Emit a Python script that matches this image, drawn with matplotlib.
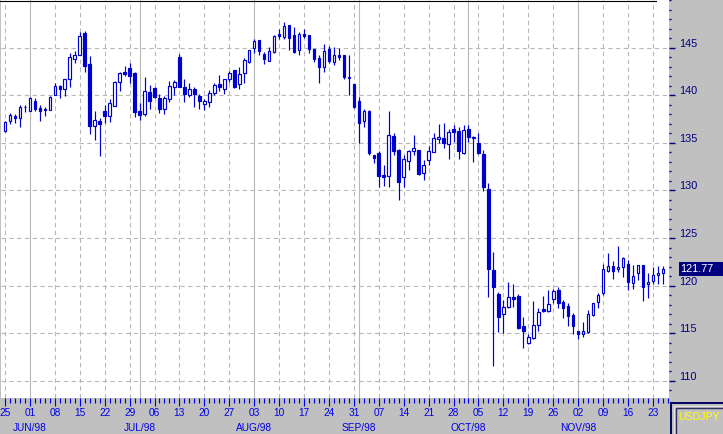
import matplotlib
matplotlib.use("Agg")
import matplotlib.pyplot as plt
import matplotlib.transforms as mtransforms
from matplotlib.patches import Rectangle
from matplotlib.lines import Line2D
import numpy as np
import pandas as pd

# daily USD/JPY, one bar per weekday starting Mon 25 May 1998
START = "1998-05-25"
SYMBOL = "USDJPY"

opens = [
    136.29, 137.27, 137.83, 137.58, 138.74, 138.32, 139.40, 138.70, 138.60, 138.49,
    140.07, 140.98, 140.63, 141.68, 143.85, 144.20, 146.51, 143.29, 136.81, 137.30,
    138.35, 137.86, 138.91, 141.43, 142.48, 142.83, 142.38, 138.32, 138.00, 140.31,
    140.73, 139.72, 138.60, 139.65, 140.91, 143.99, 140.84, 140.07, 140.66, 139.93,
    139.12, 139.33, 140.28, 141.19, 140.70, 141.68, 142.66, 141.15, 142.38, 143.50,
    145.00, 145.81, 144.34, 143.64, 144.58, 146.44, 146.16, 147.38, 146.37, 144.79,
    146.47, 146.33, 144.83, 143.92, 142.94, 144.83, 143.53, 144.23, 144.23, 141.82,
    141.15, 139.37, 137.33, 138.35, 133.73, 133.97, 131.63, 131.52, 135.72, 134.25,
    131.38, 133.13, 134.18, 134.25, 131.80, 133.20, 134.08, 135.37, 135.48, 134.92,
    136.42, 136.25, 133.90, 136.42, 135.58, 135.02, 133.83, 130.12, 121.65, 119.13,
    116.99, 117.73, 118.81, 118.92, 115.77, 114.02, 114.47, 115.84, 117.55, 117.34,
    118.64, 119.51, 118.29, 117.87, 116.92, 115.21, 114.89, 115.14, 116.89, 118.32,
    119.20, 121.58, 122.07, 121.72, 121.93, 122.28, 120.32, 121.37, 122.17, 120.15,
    120.53, 121.12, 121.30,
]
highs = [
    137.30, 138.14, 138.04, 138.98, 138.98, 139.79, 139.68, 138.95, 138.74, 139.93,
    141.26, 141.12, 141.68, 144.41, 144.69, 146.65, 146.72, 144.13, 138.35, 137.58,
    138.95, 139.58, 141.50, 142.48, 143.08, 143.39, 142.45, 139.16, 141.89, 141.08,
    140.84, 140.14, 139.93, 141.50, 141.61, 144.34, 141.68, 141.33, 140.91, 140.17,
    139.61, 140.56, 141.26, 142.13, 141.75, 142.59, 142.70, 143.01, 143.92, 144.80,
    145.91, 145.85, 144.51, 145.11, 146.37, 146.93, 147.66, 147.42, 147.17, 146.65,
    146.93, 146.37, 144.87, 144.27, 145.39, 145.18, 145.07, 145.00, 144.27, 144.23,
    141.19, 139.86, 138.56, 138.46, 133.77, 134.15, 132.68, 138.35, 136.00, 134.32,
    133.73, 134.25, 135.83, 134.29, 133.20, 134.67, 136.00, 136.99, 137.12, 136.42,
    136.88, 136.71, 136.88, 136.88, 135.72, 136.00, 134.25, 130.75, 123.54, 119.30,
    118.50, 120.35, 120.18, 119.09, 116.71, 114.93, 118.39, 117.69, 118.92, 119.55,
    119.62, 119.90, 118.50, 118.15, 117.10, 115.24, 116.15, 117.45, 118.19, 119.20,
    122.24, 123.40, 122.59, 124.17, 123.05, 122.70, 122.17, 122.18, 122.21, 121.30,
    122.00, 122.10, 122.10,
]
lows = [
    136.18, 136.95, 137.13, 136.71, 138.28, 138.32, 138.35, 137.34, 137.86, 138.42,
    140.03, 139.75, 139.96, 140.91, 143.43, 144.20, 142.48, 135.93, 135.34, 133.66,
    137.13, 137.23, 138.91, 140.49, 142.06, 141.33, 137.72, 137.44, 137.79, 138.60,
    139.75, 138.18, 138.00, 139.33, 140.03, 140.84, 139.33, 139.79, 138.81, 138.53,
    138.46, 138.81, 140.03, 140.49, 140.14, 141.43, 140.73, 140.66, 141.33, 143.36,
    144.48, 144.23, 143.32, 143.60, 144.44, 145.95, 145.95, 144.76, 144.44, 144.27,
    145.98, 144.41, 143.53, 141.33, 142.48, 143.36, 143.18, 143.71, 141.71, 140.03,
    138.67, 134.96, 136.63, 133.73, 132.92, 130.40, 130.47, 130.40, 133.73, 128.98,
    130.40, 132.15, 133.73, 131.63, 131.10, 132.68, 134.04, 135.02, 134.43, 133.27,
    135.13, 133.31, 133.86, 135.13, 133.03, 133.83, 129.98, 118.85, 111.60, 115.17,
    115.07, 117.62, 117.80, 115.49, 113.49, 113.84, 114.43, 115.28, 117.27, 117.27,
    118.15, 117.69, 116.64, 115.80, 114.93, 114.37, 114.65, 115.00, 116.85, 117.69,
    119.03, 121.40, 120.67, 121.48, 120.95, 119.55, 119.69, 120.60, 118.43, 118.75,
    120.18, 120.18, 120.18,
]
closes = [
    137.16, 137.93, 137.65, 138.77, 138.77, 139.68, 138.60, 138.39, 138.42, 139.82,
    140.98, 140.63, 141.68, 143.99, 144.23, 146.23, 143.11, 136.81, 137.41, 137.02,
    137.86, 139.19, 141.40, 142.34, 142.27, 142.06, 138.28, 137.97, 140.42, 139.44,
    139.86, 138.60, 139.68, 140.94, 141.36, 140.91, 140.14, 140.63, 140.17, 139.44,
    139.40, 140.21, 141.08, 140.91, 141.68, 142.31, 140.84, 142.24, 143.71, 144.76,
    145.67, 144.69, 143.81, 144.65, 146.23, 146.26, 147.28, 146.05, 144.58, 146.47,
    146.26, 144.83, 143.81, 143.01, 144.62, 143.60, 144.23, 143.99, 141.92, 141.85,
    138.74, 137.13, 138.35, 133.90, 133.45, 131.56, 131.45, 135.83, 134.18, 130.93,
    133.27, 134.18, 134.43, 131.73, 132.64, 134.15, 135.48, 135.58, 134.95, 136.11,
    136.18, 134.18, 136.35, 135.58, 135.55, 133.90, 130.33, 121.72, 119.83, 116.68,
    117.76, 118.81, 118.64, 115.59, 115.24, 114.58, 115.84, 117.20, 117.34, 118.08,
    119.44, 118.22, 117.69, 116.85, 115.80, 114.89, 115.21, 116.99, 118.15, 118.99,
    121.72, 122.07, 121.58, 122.00, 122.94, 120.43, 121.02, 122.14, 119.90, 120.43,
    121.12, 121.37, 121.77,
]

W, H = 723, 434
BG = "#c0c0c0"
CANDLE = "#0000cc"
GRID = "#b8b8b8"
NAVY = "#000080"
XBLUE = "#0000e6"

plt.rcParams["font.family"] = ["Liberation Sans", "DejaVu Sans"]


def fig_box(x0, y0, x1, y1):
    """pixel box (top-left origin) -> (x, y, w, h) in figure fraction"""
    return x0 / W, 1 - y1 / H, (x1 - x0) / W, (y1 - y0) / H


o = np.array(opens)
h = np.array(highs)
l = np.array(lows)
c = np.array(closes)
idx = np.arange(len(c))
dates = pd.bdate_range(START, periods=len(c))
up = c >= o

fig = plt.figure(figsize=(W / 100, H / 100), dpi=100, facecolor=BG)
ax = fig.add_axes([1 / W, 36 / H, 668 / W, 398 / H])
ax.set_facecolor("white")
ax.set_xlim(-0.80, 133.23)
ax.set_ylim(108.2, 150.0)
for s in ax.spines.values():
    s.set_visible(False)

# grid: dashed price lines, dashed weekly lines, solid month lines
for p in range(110, 150, 5):
    ax.axhline(p, color=GRID, lw=0.8, ls=(0, (4, 3)), zorder=0)
month_start = [i for i in idx[1:] if dates[i].month != dates[i - 1].month]
mondays = idx[dates.dayofweek == 0]
for i in mondays:
    if i not in month_start:
        ax.axvline(i, color=GRID, lw=0.8, ls=(0, (4, 3)), zorder=0)
for i in month_start:
    ax.axvline(i, color=GRID, lw=0.8, zorder=0)

# candles
ax.vlines(idx, l, h, color=CANDLE, lw=0.85, zorder=2)
ax.bar(idx, np.maximum(np.abs(c - o), 0.06), bottom=np.minimum(o, c), width=0.52,
       color=np.where(up, "white", CANDLE), edgecolor=CANDLE, linewidth=0.85, zorder=3)

# x axis: every weekday ticked, Mondays labelled
ax.set_xticks(mondays, labels=[f"{d:%d}" for d in dates[mondays]])
ax.set_xticks(np.arange(0, 134), minor=True)
ax.tick_params(axis="x", which="major", length=5.5, width=0.8, color=XBLUE,
               labelcolor=XBLUE, labelsize=7.3, pad=2)
ax.tick_params(axis="x", which="minor", length=3.4, width=0.8, color=XBLUE)
xlab = mtransforms.blended_transform_factory(ax.transData, ax.transAxes)
for i in month_start:
    d = dates[i]
    ax.text(i, -0.0754, f"{d:%b}".upper() + f"/{d:%y}", transform=xlab,
            ha="center", va="center", fontsize=7.3, color=XBLUE, clip_on=False)

# right price axis
ax.yaxis.tick_right()
ax.set_yticks(range(110, 150, 5))
ax.set_yticks(range(109, 151), minor=True)
ax.tick_params(axis="y", which="major", length=4.3, width=1.0, color=NAVY,
               labelright=False)
ax.tick_params(axis="y", which="minor", length=1.5, width=1.0, color=NAVY)
ylab = mtransforms.blended_transform_factory(ax.transAxes, ax.transData)
for p in range(110, 150, 5):
    ax.text(1.015, p + 0.1, str(p), transform=ylab, fontsize=7.8, color=NAVY,
            ha="left", va="baseline", clip_on=False)

# last price marker
ax.add_patch(Rectangle((1.0148, c[-1] - 0.76), 0.09, 1.5, transform=ylab,
                       fc=NAVY, ec="none", clip_on=False, zorder=5))
ax.text(1.0165, c[-1], f"{c[-1]:.2f}", transform=ylab, fontsize=7.8,
        color="white", ha="left", va="center", clip_on=False, zorder=6)

# top border of the chart window
fig.add_artist(Line2D([0, 656 / W], [1 - 0.5 / H] * 2, color="black", lw=0.8))

# symbol box bottom right
outer = fig_box(671, 403, 760, 470)
light = fig_box(673.5, 405.5, 760, 470)
inner = fig_box(676, 408, 760, 470)
fig.add_artist(Rectangle(outer[:2], *outer[2:], fc=BG, ec="#000060", lw=1.4))
fig.add_artist(Rectangle(light[:2], *light[2:], fc="none", ec="#e8e8e8", lw=0.7))
fig.add_artist(Rectangle(inner[:2], *inner[2:], fc=BG, ec="#303060", lw=1.0))
fig.text(678.5 / W, 1 - 417 / H, SYMBOL, color="#ffff00", fontsize=7.6,
         ha="left", va="center")

fig.savefig("out.png", dpi=100, facecolor=BG)
